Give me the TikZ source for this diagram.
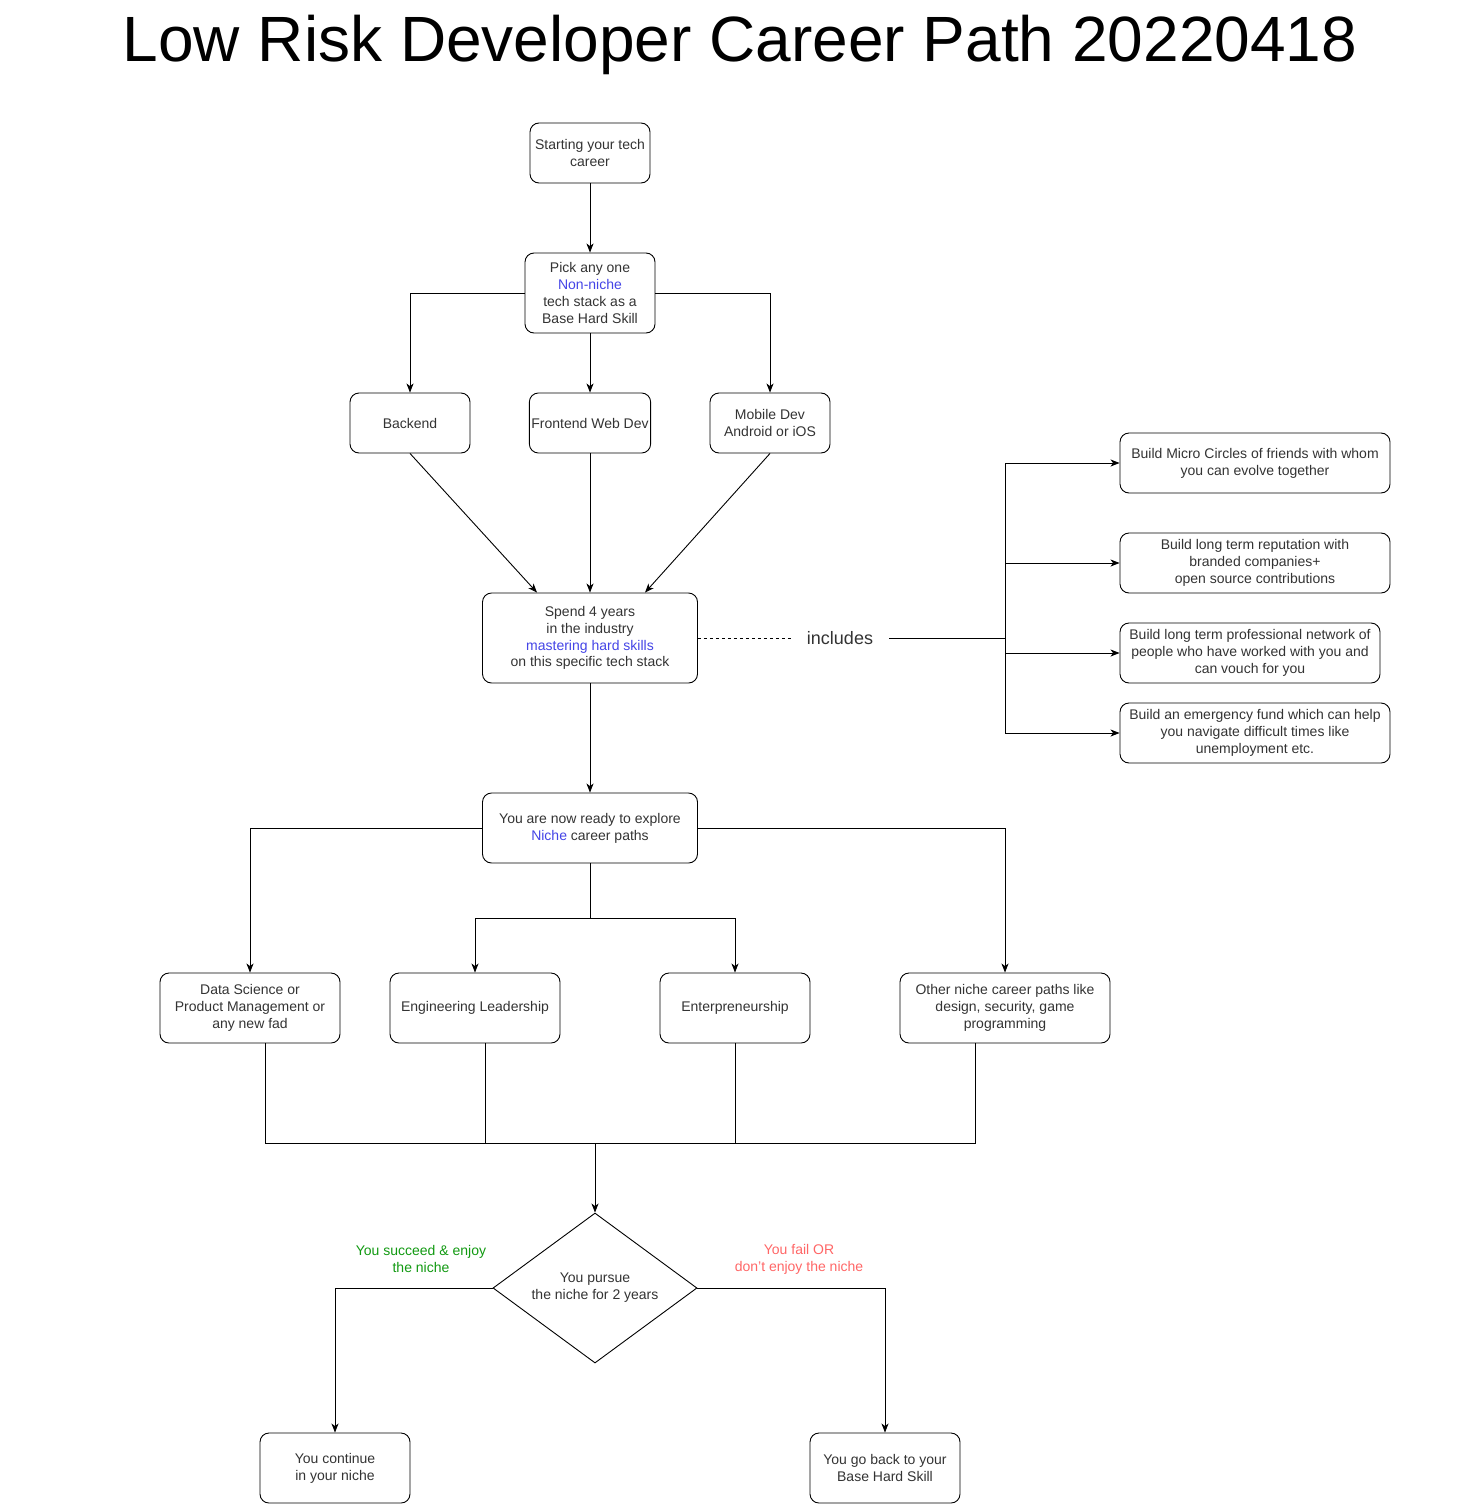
\documentclass[tikz,border=0pt]{standalone}
\usepackage{fontspec}
\setmainfont{Liberation Sans}
\usepackage{xcolor}
\usepackage{tikz}
\usetikzlibrary{positioning, shapes, calc, arrows.meta}

\definecolor{nicheblue}{HTML}{4444E6}
\definecolor{goodgreen}{HTML}{119911}
\definecolor{badred}{HTML}{FF6666}
\definecolor{textgray}{HTML}{333333}

\tikzset{
	box/.style n args={2}{draw, rounded corners=9pt, align=center, inner sep=2pt, text=textgray,
		font=\fontsize{14}{16.8}\selectfont, minimum width=#1, minimum height=#2},
	lbl/.style={align=center, font=\fontsize{14}{16.8}\selectfont}
}

\begin{document}
\begin{tikzpicture}[x=1pt, y=-1pt, line width=0.9pt, >={Stealth[length=9pt, width=7pt, inset=2.5pt]}]
			\useasboundingbox (0,0) rectangle (1481,1504);
			
			\node [anchor=base, font=\fontsize{64}{70}\selectfont] (title) at (740,62) {Low Risk Developer Career Path 20220418};
			
			\node [box={120}{60}] (start) at (590,153) {Starting your tech\\career};
			\node [box={130}{80}] (pick) at (590,293) {Pick any one\\\textcolor{nicheblue}{Non-niche}\\tech stack as a\\Base Hard Skill};
			\node [box={120}{60}] (backend) at (410,423) {Backend};
			\node [box={120}{60}] (frontend) at (590,423) {Frontend Web Dev};
			\node [box={120}{60}] (mobile) at (770,423) {Mobile Dev\\Android or iOS};
			\node [box={215}{90}] (spend) at (590,638) {Spend 4 years\\in the industry\\\textcolor{nicheblue}{mastering hard skills}\\on this specific tech stack};
			\node [font=\fontsize{18}{21}\selectfont, text=textgray, inner xsep=16pt] (includes) at (840,638) {includes};
			\coordinate (branch) at (1005,638);
			
			\node [box={270}{60}] (micro) at (1255,463) {Build Micro Circles of friends with whom\\you can evolve together};
			\node [box={270}{60}] (reputation) at (1255,563) {Build long term reputation with\\branded companies+\\open source contributions};
			\node [box={260}{60}] (network) at (1250,653) {Build long term professional network of\\people who have worked with you and\\can vouch for you};
			\node [box={270}{60}] (fund) at (1255,733) {Build an emergency fund which can help\\you navigate difficult times like\\unemployment etc.};
			
			\node [box={215}{70}] (ready) at (590,828) {You are now ready to explore\\\textcolor{nicheblue}{Niche} career paths};
			\coordinate (split) at (590,918);
			
			\node [box={180}{70}] (ds) at (250,1008) {Data Science or\\Product Management or\\any new fad};
			\node [box={170}{70}] (eng) at (475,1008) {Engineering Leadership};
			\node [box={150}{70}] (ent) at (735,1008) {Enterpreneurship};
			\node [box={210}{70}] (other) at (1005,1008) {Other niche career paths like\\design, security, game\\programming};
			\coordinate (merge) at (595,1143);
			
			\node [draw, diamond, aspect=1.36, inner sep=0pt, minimum width=204, minimum height=150, lbl, text=textgray] (decide) at (595,1288) {You pursue\\the niche for 2 years};
			\node [lbl, text=goodgreen] (yeslbl) at (421,1259) {You succeed \& enjoy\\the niche};
			\node [lbl, text=badred] (nolbl) at (799,1259) {You fail OR\\don't enjoy the niche};
			
			\node [box={150}{70}] (cont) at (335,1468) {You continue\\in your niche};
			\node [box={150}{70}] (goback) at (885,1468) {You go back to your\\Base Hard Skill};
			
			\draw [->] (start) -- (pick);
			\draw [->] (pick.west) -| (backend.north);
			\draw [->] (pick) -- (frontend);
			\draw [->] (pick.east) -| (mobile.north);
			\draw [->] (backend.south) -- ([xshift=-53pt]spend.north);
			\draw [->] (frontend) -- (spend);
			\draw [->] (mobile.south) -- ([xshift=55pt]spend.north);
			
			\draw [dash pattern=on 3pt off 3pt] (spend) -- (includes);
			\draw (includes) -- (branch);
			\draw (branch |- micro.west) -- (branch |- fund.west);
			\foreach \b in {micro, reputation, network, fund}
			\draw [->] (branch |- \b.west) -- (\b.west);
			
			\draw [->] (spend) -- (ready);
			\draw [->] (ready.west) -| (ds.north);
			\draw [->] (ready.east) -| (other.north);
			\draw (ready.south) -- (split);
			\draw [->] (split) -| (eng.north);
			\draw [->] (split) -| (ent.north);
			
			\draw ([xshift=15pt]ds.south) -- ++(0,100) -- ++(710,0) -- ++(0,-100);
			\draw ([xshift=10pt]eng.south) -- ++(0,100);
			\draw (ent.south) -- (ent.south |- merge);
			\draw [->] (merge) -- (decide.north);
			
			\draw [->] (decide.west) -| (cont.north);
			\draw [->] (decide.east) -| (goback.north);
\end{tikzpicture}
\end{document}
